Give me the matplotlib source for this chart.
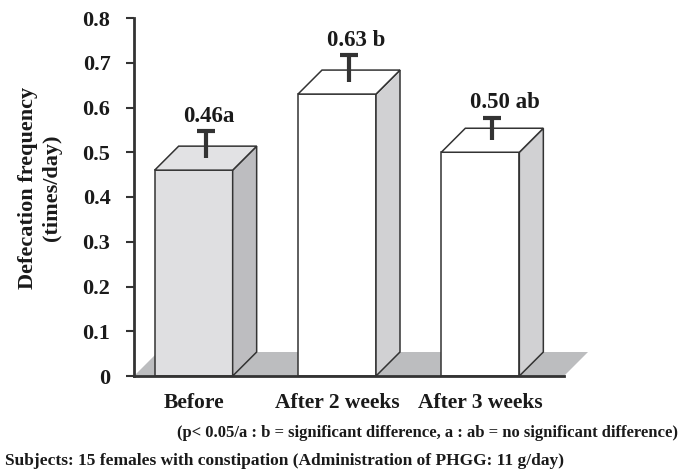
import matplotlib
matplotlib.use("Agg")
import matplotlib.pyplot as plt
from matplotlib.patches import Polygon

# Defecation frequency before / after PHGG administration
categories = ["Before", "After 2 weeks", "After 3 weeks"]
values = [0.46, 0.63, 0.50]
errors = [0.06, 0.06, 0.05]
value_labels = ["0.46a", "0.63 b", "0.50 ab"]
yticks = [0, 0.1, 0.2, 0.3, 0.4, 0.5, 0.6, 0.7, 0.8]
ytick_labels = ["0", "0.1", "0.2", "0.3", "0.4", "0.5", "0.6", "0.7", "0.8"]

front_colors = ["#dfdfe1", "#ffffff", "#ffffff"]
side_colors = ["#bdbdc0", "#d1d1d3", "#d1d1d3"]
top_colors = ["#e2e2e4", "#ffffff", "#ffffff"]
floor_color = "#bcbdbf"
edge = "#333333"
text_color = "#1a1a1a"

plt.rcParams["font.family"] = ["Liberation Serif", "DejaVu Serif"]
plt.rcParams["font.weight"] = "bold"

W, H = 680, 475
fig = plt.figure(figsize=(W / 100, H / 100), dpi=100)
ax_left, ax_right, ax_top, ax_bottom = 134, 564, 18, 376
ax = fig.add_axes([ax_left / W, (H - ax_bottom) / H,
                   (ax_right - ax_left) / W, (ax_bottom - ax_top) / H])
ax.set_xlim(0, 3)
ax.set_ylim(0, 0.8)

# pseudo-3D depth offsets (pixels -> data units)
px_x = 3 / (ax_right - ax_left)
px_y = 0.8 / (ax_bottom - ax_top)
depth_px = 24
ddx = depth_px * px_x
ddy = depth_px * px_y
bar_w = 78 * px_x

# floor
floor = Polygon([(0, 0), (3, 0), (3 + ddx, ddy), (ddx, ddy)], closed=True,
                facecolor=floor_color, edgecolor="none", clip_on=False, zorder=1)
ax.add_patch(floor)

for i, (v, e) in enumerate(zip(values, errors)):
    xc = i + 0.5 - ddx / 2
    x0, x1 = xc - bar_w / 2, xc + bar_w / 2
    front = Polygon([(x0, 0), (x1, 0), (x1, v), (x0, v)], closed=True,
                    facecolor=front_colors[i], edgecolor=edge, lw=1.1,
                    clip_on=False, zorder=3)
    side = Polygon([(x1, 0), (x1 + ddx, ddy), (x1 + ddx, v + ddy), (x1, v)],
                   closed=True, facecolor=side_colors[i], edgecolor=edge,
                   lw=1.1, clip_on=False, zorder=3)
    top = Polygon([(x0, v), (x1, v), (x1 + ddx, v + ddy), (x0 + ddx, v + ddy)],
                  closed=True, facecolor=top_colors[i], edgecolor=edge,
                  lw=1.1, clip_on=False, zorder=3)
    for p in (front, side, top):
        ax.add_patch(p)
    # error bar rising from the centre of the top face
    ex = xc + ddx / 2
    ey = v + ddy / 2
    ax.plot([ex, ex], [ey, ey + e], color=edge, lw=3, solid_capstyle="butt",
            zorder=4, clip_on=False)
    ax.plot([ex - 9 * px_x, ex + 9 * px_x], [ey + e, ey + e], color=edge,
            lw=3, solid_capstyle="butt", zorder=4, clip_on=False)
    ax.annotate(value_labels[i], xy=(ex, ey + e), xytext=(-16, 7),
                textcoords="offset points", ha="left", va="baseline",
                fontsize=16.5, fontweight="bold", color=text_color,
                annotation_clip=False)

for s in ("top", "right"):
    ax.spines[s].set_visible(False)
for s in ("left", "bottom"):
    ax.spines[s].set_color(edge)
    ax.spines[s].set_linewidth(2)
    ax.spines[s].set_zorder(5)

ax.set_yticks(yticks)
ax.set_yticklabels(ytick_labels, fontsize=16, fontweight="bold", color=text_color)
ax.tick_params(axis="y", direction="out", length=6, width=1.5, color=edge, pad=11)
ax.set_xticks([i + 0.5 - ddx / 2 for i in range(3)])
ax.set_xticklabels(categories, fontsize=15.5, fontweight="bold", color=text_color)
ax.tick_params(axis="x", length=0, pad=12)

fig.text(40 / W, 1 - 188 / H, "Defecation frequency\n(times/day)",
         rotation=90, ha="center", va="center", ma="center", fontsize=16,
         fontweight="bold", color=text_color, linespacing=1.25)

fig.text(0.997, 1 - 433 / H,
         "(p< 0.05/a : b = significant difference, a : ab = no significant difference)",
         ha="right", va="center", fontsize=12, fontweight="bold", color=text_color)
fig.text(5 / W, 1 - 461 / H,
         "Subjects: 15 females with constipation (Administration of PHGG: 11 g/day)",
         ha="left", va="center", fontsize=12.5, fontweight="bold", color=text_color)

fig.savefig("out.png", dpi=100)
